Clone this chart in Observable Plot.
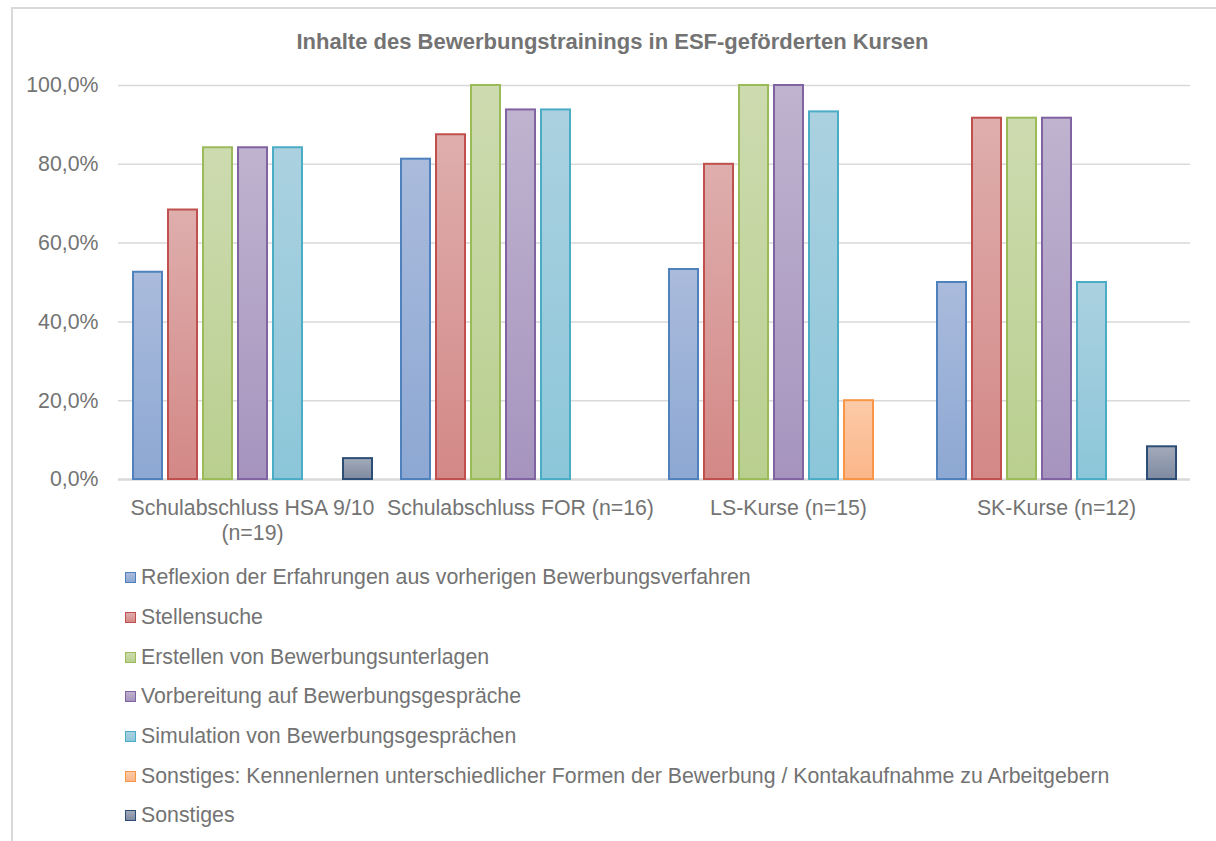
<!DOCTYPE html>
<html>
<head>
<meta charset="utf-8">
<script src="https://cdn.jsdelivr.net/npm/d3@7"></script>
<script src="https://cdn.jsdelivr.net/npm/@observablehq/plot@0.6"></script>
<style>
  body { margin: 0; background: #fff; font-family: "Liberation Sans", Arial, sans-serif; }
  #frame { position: absolute; left: 11px; top: 7px; width: 1400px; height: 1000px;
           border-left: 2px solid #d9d9d9; border-top: 2px solid #d9d9d9; }
  #wrap { position: absolute; left: 0; top: 0; width: 1216px; }
  #title { box-sizing: border-box; height: 60px; padding-top: 29px; padding-left: 9px; text-align: center;
           font-weight: bold; font-size: 22px; line-height: 26px; color: #737373; }
  #legend { margin-top: 9px; padding-left: 125px; color: #737373; font-size: 21.3px; }
  .li { height: 39.7px; display: flex; align-items: center; white-space: nowrap; }
  .sw { width: 9px; height: 9px; border-width: 1.5px; border-style: solid; margin-right: 5px; flex: none; }
  svg { display: block; }
</style>
</head>
<body>
<div id="frame"></div>
<div id="wrap">
  <div id="title"></div>
  <div id="chart"></div>
  <div id="legend"></div>
</div>
<script>
const titleText = "Inhalte des Bewerbungstrainings in ESF-geförderten Kursen";
const groups = ["Schulabschluss HSA 9/10 (n=19)", "Schulabschluss FOR (n=16)", "LS-Kurse (n=15)", "SK-Kurse (n=12)"];
const series = [
  "Reflexion der Erfahrungen aus vorherigen Bewerbungsverfahren",
  "Stellensuche",
  "Erstellen von Bewerbungsunterlagen",
  "Vorbereitung auf Bewerbungsgespräche",
  "Simulation von Bewerbungsgesprächen",
  "Sonstiges: Kennenlernen unterschiedlicher Formen der Bewerbung / Kontakaufnahme zu Arbeitgebern",
  "Sonstiges"
];
// percent values per group (order of groups)
const reflexion     = [52.6, 81.3, 53.3, 50.0];
const stellensuche  = [68.4, 87.5, 80.0, 91.7];
const unterlagen    = [84.2, 100.0, 100.0, 91.7];
const vorbereitung  = [84.2, 93.8, 100.0, 91.7];
const simulation    = [84.2, 93.8, 93.3, 50.0];
const sonstKontakt  = [0, 0, 20.0, 0];
const sonstiges     = [5.3, 0, 0, 8.3];
const yTicks = [0, 20, 40, 60, 80, 100];

const seriesValues = [reflexion, stellensuche, unterlagen, vorbereitung, simulation, sonstKontakt, sonstiges];
const strokes   = ["#4F81BD", "#C0504D", "#9BBB59", "#8064A2", "#4BACC6", "#F79646", "#2C4D75"];
const gradTop   = ["#AABBDC", "#DEAEAD", "#CDDBB0", "#BFB3CF", "#ABD1E0", "#FCCAA8", "#A3ABBA"];
const gradBot   = ["#8DA8D3", "#D38886", "#B9CF8F", "#A694BE", "#8CC6D9", "#FBB689", "#7F8AA1"];

const rows = [];
series.forEach((s, i) => groups.forEach((g, j) => {
  const v = seriesValues[i][j];
  if (v > 0) rows.push({group: g, series: s, value: v, idx: i});
}));

document.getElementById("title").textContent = titleText;

const fmt = d => d.toFixed(1).replace(".", ",") + "%";
const textColor = "#737373";

const marks = [
  Plot.ruleY(yTicks.filter(d => d > 0), {stroke: "#d9d9d9", strokeWidth: 1.5}),
  Plot.ruleY([0], {stroke: "#d9d9d9", strokeWidth: 2.5})
];
series.forEach((s, i) => {
  marks.push(Plot.barY(rows.filter(r => r.idx === i), {
    fx: "group", x: "series", y: "value",
    fill: `url(#grad${i})`, stroke: strokes[i], strokeWidth: 2
  }));
});
marks.push(Plot.axisY({ticks: yTicks, tickFormat: fmt, tickSize: 0, tickPadding: 20, fontSize: 21.3, fill: textColor, label: null}));
marks.push(Plot.axisFx({anchor: "bottom", tickSize: 0, tickPadding: 18, fontSize: 21.3, fill: textColor, lineHeight: 1.17, label: null,
  tickFormat: d => d.length > 26 ? d.replace(" (", "\n(") : d}));

const chart = Plot.plot({
  width: 1216,
  height: 489,
  marginTop: 25,
  marginBottom: 70,
  marginLeft: 118,
  marginRight: 26,
  style: {fontFamily: "'Liberation Sans', Arial, sans-serif", fontSize: "21.3px", color: textColor, background: "transparent", overflow: "visible"},
  fx: {domain: groups, padding: 0, label: null},
  x: {domain: series, paddingInner: 0.18, paddingOuter: 0.385, axis: null},
  y: {domain: [0, 100], label: null},
  marks
});

const svg = d3.select(chart.tagName.toLowerCase() === "svg" ? chart : chart.querySelector("svg"));
const defs = svg.insert("defs", ":first-child");
strokes.forEach((c, i) => {
  const lg = defs.append("linearGradient").attr("id", `grad${i}`).attr("x1", 0).attr("y1", 0).attr("x2", 0).attr("y2", 1);
  lg.append("stop").attr("offset", "0%").attr("stop-color", gradTop[i]);
  lg.append("stop").attr("offset", "100%").attr("stop-color", gradBot[i]);
});
document.getElementById("chart").appendChild(chart);

const legend = document.getElementById("legend");
series.forEach((s, i) => {
  const row = document.createElement("div");
  row.className = "li";
  const sw = document.createElement("span");
  sw.className = "sw";
  sw.style.borderColor = strokes[i];
  sw.style.background = `linear-gradient(${gradTop[i]}, ${gradBot[i]})`;
  const t = document.createElement("span");
  t.textContent = s;
  row.appendChild(sw); row.appendChild(t);
  legend.appendChild(row);
});
</script>
</body>
</html>
